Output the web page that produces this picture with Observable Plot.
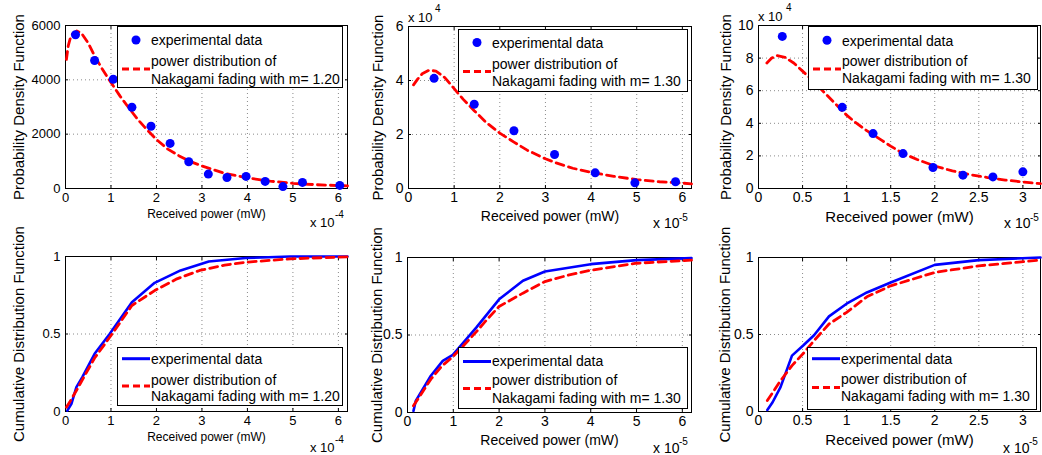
<!DOCTYPE html>
<html>
<head>
<meta charset="utf-8">
<script src="https://cdn.jsdelivr.net/npm/d3@7"></script>
<script src="https://cdn.jsdelivr.net/npm/@observablehq/plot@0.6"></script>
<style>
  body { margin: 0; background: #fff; }
  #root { position: relative; width: 1042px; height: 455px; overflow: hidden; background: #fff;
          font-family: "Liberation Sans", Arial, Helvetica, sans-serif; color: #000; }
  .panel { position: absolute; }
  .panel svg { display: block; overflow: visible; max-width: none; }
  .legend { position: absolute; box-sizing: border-box; border: 1px solid #000; background: #fff; }
  .legend svg { position: absolute; left: 0; top: 0; overflow: visible; }
  .lt { position: absolute; white-space: nowrap; }
</style>
</head>
<body>
<div id="root"></div>
<script>
// ---------------- DATA ----------------
// x values are in the units shown on each axis (×1e-4 mW for column 1, ×1e-5 mW for columns 2 and 3)
// PDF, column 1 (y in plain units)
const pdf1X = [0.22, 0.64, 1.05, 1.46, 1.88, 2.30, 2.71, 3.14, 3.55, 3.97, 4.39, 4.78, 5.21, 6.03];
const pdf1Y = [5660, 4710, 4020, 2990, 2290, 1660, 985, 530, 405, 445, 260, 70, 225, 115];
const fit1X = [0.02, 0.06, 0.1, 0.15, 0.25, 0.35, 0.5, 0.65, 0.8, 1.0, 1.2, 1.4, 1.6, 1.8, 2.0, 2.25, 2.5, 2.75, 3.0, 3.5, 4.0, 4.5, 5.0, 5.5, 6.2];
const fit1Y = [4750, 5250, 5500, 5680, 5800, 5720, 5350, 4850, 4420, 3900, 3400, 2950, 2520, 2150, 1800, 1450, 1200, 990, 830, 560, 390, 270, 190, 140, 95];
// PDF, column 2 (y ×1e4)
const pdf2X = [0.56, 1.44, 2.31, 3.20, 4.09, 4.96, 5.85];
const pdf2Y = [4.08, 3.12, 2.14, 1.26, 0.58, 0.21, 0.25];
const fit2X = [0.11, 0.2, 0.3, 0.45, 0.6, 0.8, 1.0, 1.2, 1.44, 1.7, 2.0, 2.31, 2.6, 3.0, 3.2, 3.6, 4.0, 4.5, 5.0, 5.5, 6.0, 6.2];
const fit2Y = [3.84, 4.05, 4.25, 4.38, 4.35, 4.1, 3.7, 3.3, 2.88, 2.45, 2.05, 1.72, 1.42, 1.1, 0.97, 0.75, 0.6, 0.45, 0.33, 0.25, 0.2, 0.17];
// PDF, column 3 (y ×1e4)
const pdf3X = [0.27, 0.95, 1.30, 1.64, 1.98, 2.32, 2.66, 3.00];
const pdf3Y = [9.33, 4.98, 3.37, 2.14, 1.29, 0.82, 0.71, 1.02];
const fit3X = [0.095, 0.15, 0.21, 0.3, 0.4, 0.5, 0.6, 0.7, 0.8, 0.9, 1.0, 1.1, 1.2, 1.3, 1.4, 1.5, 1.64, 1.8, 2.0, 2.2, 2.4, 2.6, 2.8, 3.0, 3.2];
const fit3Y = [7.7, 8.0, 8.15, 8.05, 7.7, 7.2, 6.7, 6.15, 5.6, 5.05, 4.5, 4.05, 3.65, 3.3, 2.95, 2.6, 2.15, 1.78, 1.38, 1.08, 0.85, 0.67, 0.52, 0.4, 0.3];
// CDF, column 1
const cdf1X = [0.04, 0.13, 0.24, 0.37, 0.64, 0.97, 1.46, 1.96, 2.53, 3.15, 3.96, 4.94, 6.2];
const cdf1Y = [0.006, 0.05, 0.157, 0.222, 0.372, 0.50, 0.705, 0.83, 0.91, 0.968, 0.99, 1.0, 1.0];
const fitCdf1X = [0.02, 0.1, 0.24, 0.4, 0.64, 1.0, 1.46, 1.96, 2.45, 2.95, 3.5, 3.96, 4.94, 6.2];
const fitCdf1Y = [0.028, 0.065, 0.135, 0.22, 0.345, 0.49, 0.684, 0.78, 0.856, 0.91, 0.945, 0.963, 0.985, 0.998];
// CDF, column 2
const cdf2X = [0.13, 0.18, 0.51, 0.77, 0.99, 1.5, 2.0, 2.52, 3.0, 4.0, 5.0, 6.2];
const cdf2Y = [0.01, 0.075, 0.237, 0.333, 0.372, 0.548, 0.73, 0.85, 0.91, 0.957, 0.983, 0.996];
const fitCdf2X = [0.13, 0.3, 0.51, 0.75, 0.99, 1.25, 1.5, 1.75, 2.0, 2.52, 3.0, 3.5, 4.0, 5.0, 6.2];
const fitCdf2Y = [0.043, 0.12, 0.215, 0.30, 0.36, 0.44, 0.52, 0.605, 0.684, 0.77, 0.845, 0.885, 0.918, 0.963, 0.983];
// CDF, column 3
const cdf3X = [0.10, 0.16, 0.25, 0.38, 0.51, 0.63, 0.80, 1.0, 1.23, 1.5, 2.0, 2.5, 3.2];
const cdf3Y = [0.01, 0.06, 0.158, 0.363, 0.43, 0.495, 0.618, 0.70, 0.773, 0.838, 0.952, 0.983, 1.0];
const fitCdf3X = [0.10, 0.25, 0.38, 0.51, 0.63, 0.80, 1.0, 1.23, 1.5, 2.0, 2.5, 3.2];
const fitCdf3Y = [0.071, 0.20, 0.298, 0.378, 0.46, 0.568, 0.644, 0.745, 0.816, 0.903, 0.946, 0.983];

// ticks and labels
const xTicksWide = [0, 1, 2, 3, 4, 5, 6];
const xTicksNarrow = [0, 0.5, 1, 1.5, 2, 2.5, 3];
const yTicksPdf1 = [0, 2000, 4000, 6000];
const yTicksPdf2 = [0, 2, 4, 6];
const yTicksPdf3 = [0, 2, 4, 6, 8, 10];
const yTicksCdf = [0, 0.5, 1];
const xExponents = ["-4", "-5", "-5"];
const yExponents = [null, "4", "4"];
const mValues = ["1.20", "1.30", "1.30"];
const X_LABEL = "Received power (mW)";
const Y_LABEL_PDF = "Probability Density Function";
const Y_LABEL_CDF = "Cumulative Distribution Function";
const LEG_EXP = "experimental data";
const LEG_FIT1 = "power distribution of";
const LEG_FIT2 = "Nakagami fading with m= ";

// ---------------- DRAWING ----------------
const FONT = '"Liberation Sans", Arial, Helvetica, sans-serif';
const BLUE = "#0000ff", RED = "#ff0000";
const root = document.getElementById("root");
const zip = (xs, ys) => xs.map((x, i) => ({x, y: ys[i]}));
const fmt = d => String(d);

function makePanel(c) {
  const gridStyle = {stroke: "#8a8a8a", strokeOpacity: 1, strokeDasharray: "1,3", strokeWidth: 1};
  const marks = [
    Plot.gridX(c.xTicks, gridStyle),
    Plot.gridY(c.yTicks, gridStyle),
    Plot.frame({stroke: "#000", strokeWidth: 1}),
    Plot.axisX(c.xTicks, {tickSize: -3, tickPadding: 7, tickFormat: fmt, label: null, fontSize: c.tickFs}),
    Plot.axisX(c.xTicks, {anchor: "top", tickSize: -3, tickFormat: () => "", label: null}),
    Plot.axisY(c.yTicks, {tickSize: -3, tickPadding: 8, tickFormat: fmt, label: null, fontSize: c.tickFs}),
    Plot.axisY(c.yTicks, {anchor: "right", tickSize: -3, tickFormat: () => "", label: null}),
    Plot.text([X_LABEL], {text: d => d, frameAnchor: "bottom", textAnchor: "middle", dy: c.xLabOff, lineAnchor: "top", fontSize: c.xLabFs}),
    Plot.text([c.yLabel], {text: d => d, frameAnchor: "left", textAnchor: "middle", rotate: -90, dx: -c.yLabOff, lineAnchor: "top", fontSize: 15}),
    ...c.marks
  ];
  const chart = Plot.plot({
    width: c.w, height: c.h,
    marginLeft: c.mL, marginRight: c.mR, marginTop: c.mT, marginBottom: c.mB,
    style: {fontFamily: FONT, fontSize: c.tickFs + "px", color: "#000", background: "transparent", overflow: "visible"},
    x: {domain: c.xDomain},
    y: {domain: c.yDomain},
    marks
  });
  const div = document.createElement("div");
  div.className = "panel";
  Object.assign(div.style, {left: c.left + "px", top: c.top + "px", width: c.w + "px", height: c.h + "px"});
  div.appendChild(chart);
  root.appendChild(div);
}

function pdfMarks(px, py, fx, fy) {
  return [
    Plot.line(zip(fx, fy), {x: "x", y: "y", stroke: RED, strokeWidth: 2.8, strokeDasharray: "8,5"}),
    Plot.dot(zip(px, py), {x: "x", y: "y", r: 4.5, fill: BLUE, stroke: "none"})
  ];
}
function cdfMarks(bx, by, fx, fy) {
  return [
    Plot.line(zip(bx, by), {x: "x", y: "y", stroke: BLUE, strokeWidth: 2.6}),
    Plot.line(zip(fx, fy), {x: "x", y: "y", stroke: RED, strokeWidth: 2.8, strokeDasharray: "8,5"})
  ];
}

const topRow = {top: 0, h: 230, yLabel: Y_LABEL_PDF};
const botRow = {top: 230, h: 225, yLabel: Y_LABEL_CDF};

makePanel({...topRow, left: 0, w: 350, mL: 65, mR: 3, mT: 25, mB: 42, tickFs: 13, xLabFs: 12, xLabOff: 21, yLabOff: 52,
  xDomain: [0, 6.2], xTicks: xTicksWide, yDomain: [0, 6000], yTicks: yTicksPdf1,
  marks: pdfMarks(pdf1X, pdf1Y, fit1X, fit1Y)});
makePanel({...topRow, left: 350, w: 345, mL: 58, mR: 4, mT: 26, mB: 42, tickFs: 14, xLabFs: 14, xLabOff: 23, yLabOff: 36,
  xDomain: [0, 6.2], xTicks: xTicksWide, yDomain: [0, 6], yTicks: yTicksPdf2,
  marks: pdfMarks(pdf2X, pdf2Y, fit2X, fit2Y)});
makePanel({...topRow, left: 695, w: 347, mL: 63, mR: 2, mT: 25, mB: 42, tickFs: 14, xLabFs: 15, xLabOff: 23, yLabOff: 38,
  xDomain: [0, 3.2], xTicks: xTicksNarrow, yDomain: [0, 10], yTicks: yTicksPdf3,
  marks: pdfMarks(pdf3X, pdf3Y, fit3X, fit3Y)});
makePanel({...botRow, left: 0, w: 350, mL: 65, mR: 3, mT: 26, mB: 44, tickFs: 13, xLabFs: 12, xLabOff: 21, yLabOff: 52,
  xDomain: [0, 6.2], xTicks: xTicksWide, yDomain: [0, 1], yTicks: yTicksCdf,
  marks: cdfMarks(cdf1X, cdf1Y, fitCdf1X, fitCdf1Y)});
makePanel({...botRow, left: 350, w: 345, mL: 57, mR: 4, mT: 27, mB: 43, tickFs: 14, xLabFs: 14, xLabOff: 23, yLabOff: 36,
  xDomain: [0, 6.2], xTicks: xTicksWide, yDomain: [0, 1], yTicks: yTicksCdf,
  marks: cdfMarks(cdf2X, cdf2Y, fitCdf2X, fitCdf2Y)});
makePanel({...botRow, left: 695, w: 347, mL: 63, mR: 2, mT: 27, mB: 44, tickFs: 14, xLabFs: 15, xLabOff: 23, yLabOff: 39,
  xDomain: [0, 3.2], xTicks: xTicksNarrow, yDomain: [0, 1], yTicks: yTicksCdf,
  marks: cdfMarks(cdf3X, cdf3Y, fitCdf3X, fitCdf3Y)});

// text placed by baseline
function placeText(parent, str, left, baseline, fs) {
  const s = document.createElement("span");
  s.className = "lt";
  s.textContent = str;
  Object.assign(s.style, {left: left + "px", top: (baseline - 0.8305 * fs) + "px", fontSize: fs + "px", lineHeight: fs + "px"});
  parent.appendChild(s);
}

// exponent labels (x 10^n)
const expX = [
  {left: 310, base: 227, supLeft: 335, supBase: 218.5, fs: 13},
  {left: 653, base: 228, supLeft: 679, supBase: 221, fs: 14},
  {left: 1004, base: 228, supLeft: 1030, supBase: 221, fs: 14},
  {left: 310, base: 451.5, supLeft: 335, supBase: 443, fs: 13},
  {left: 653, base: 452.5, supLeft: 679, supBase: 445, fs: 14},
  {left: 1003, base: 452.5, supLeft: 1029, supBase: 445, fs: 14}
];
expX.forEach((e, i) => {
  placeText(root, "x 10", e.left, e.base, e.fs);
  placeText(root, xExponents[i % 3], e.supLeft, e.supBase, 10);
});
const expY = [null, {left: 408, base: 21.5, supLeft: 435, supBase: 12, fs: 13}, {left: 758, base: 20.5, supLeft: 786, supBase: 11, fs: 13}];
expY.forEach((e, i) => {
  if (!e || !yExponents[i]) return;
  placeText(root, "x 10", e.left, e.base, e.fs);
  placeText(root, yExponents[i], e.supLeft, e.supBase, 10);
});

// legends
const legends = [
  {col: 0, kind: "dot", left: 117, top: 26, w: 226, h: 62, s1: 13, s2: 42, b1: 18, b2: 38.5, b3: 57},
  {col: 1, kind: "dot", left: 458, top: 29, w: 230, h: 63, s1: 12.5, s2: 41.5, b1: 17.7, b2: 39, b3: 56},
  {col: 2, kind: "dot", left: 808, top: 26, w: 230, h: 64, s1: 13.3, s2: 42, b1: 18.3, b2: 38.5, b3: 56},
  {col: 0, kind: "line", left: 117, top: 347, w: 226, h: 59, s1: 10.7, s2: 38, b1: 15.7, b2: 36.3, b3: 53},
  {col: 1, kind: "line", left: 458, top: 347, w: 230, h: 62, s1: 13.5, s2: 40.5, b1: 17.5, b2: 37, b3: 54.4},
  {col: 2, kind: "line", left: 807, top: 347, w: 230, h: 63, s1: 10.7, s2: 39.5, b1: 15.7, b2: 35.5, b3: 53}
];
const NS = "http://www.w3.org/2000/svg";
legends.forEach(L => {
  const d = document.createElement("div");
  d.className = "legend";
  Object.assign(d.style, {left: L.left + "px", top: L.top + "px", width: L.w + "px", height: L.h + "px"});
  const svg = document.createElementNS(NS, "svg");
  svg.setAttribute("width", L.w); svg.setAttribute("height", L.h);
  if (L.kind === "dot") {
    const c = document.createElementNS(NS, "circle");
    c.setAttribute("cx", 18); c.setAttribute("cy", L.s1); c.setAttribute("r", 4.5); c.setAttribute("fill", BLUE);
    svg.appendChild(c);
  } else {
    const l = document.createElementNS(NS, "line");
    l.setAttribute("x1", 4); l.setAttribute("x2", 32); l.setAttribute("y1", L.s1); l.setAttribute("y2", L.s1);
    l.setAttribute("stroke", BLUE); l.setAttribute("stroke-width", 3);
    svg.appendChild(l);
  }
  const r = document.createElementNS(NS, "line");
  r.setAttribute("x1", 4); r.setAttribute("x2", 32); r.setAttribute("y1", L.s2); r.setAttribute("y2", L.s2);
  r.setAttribute("stroke", RED); r.setAttribute("stroke-width", 2.8); r.setAttribute("stroke-dasharray", "7,4");
  svg.appendChild(r);
  d.appendChild(svg);
  placeText(d, LEG_EXP, 33, L.b1, 14);
  placeText(d, LEG_FIT1, 33, L.b2, 14);
  placeText(d, LEG_FIT2 + mValues[L.col], 33, L.b3, 14);
  root.appendChild(d);
});
</script>
</body>
</html>
